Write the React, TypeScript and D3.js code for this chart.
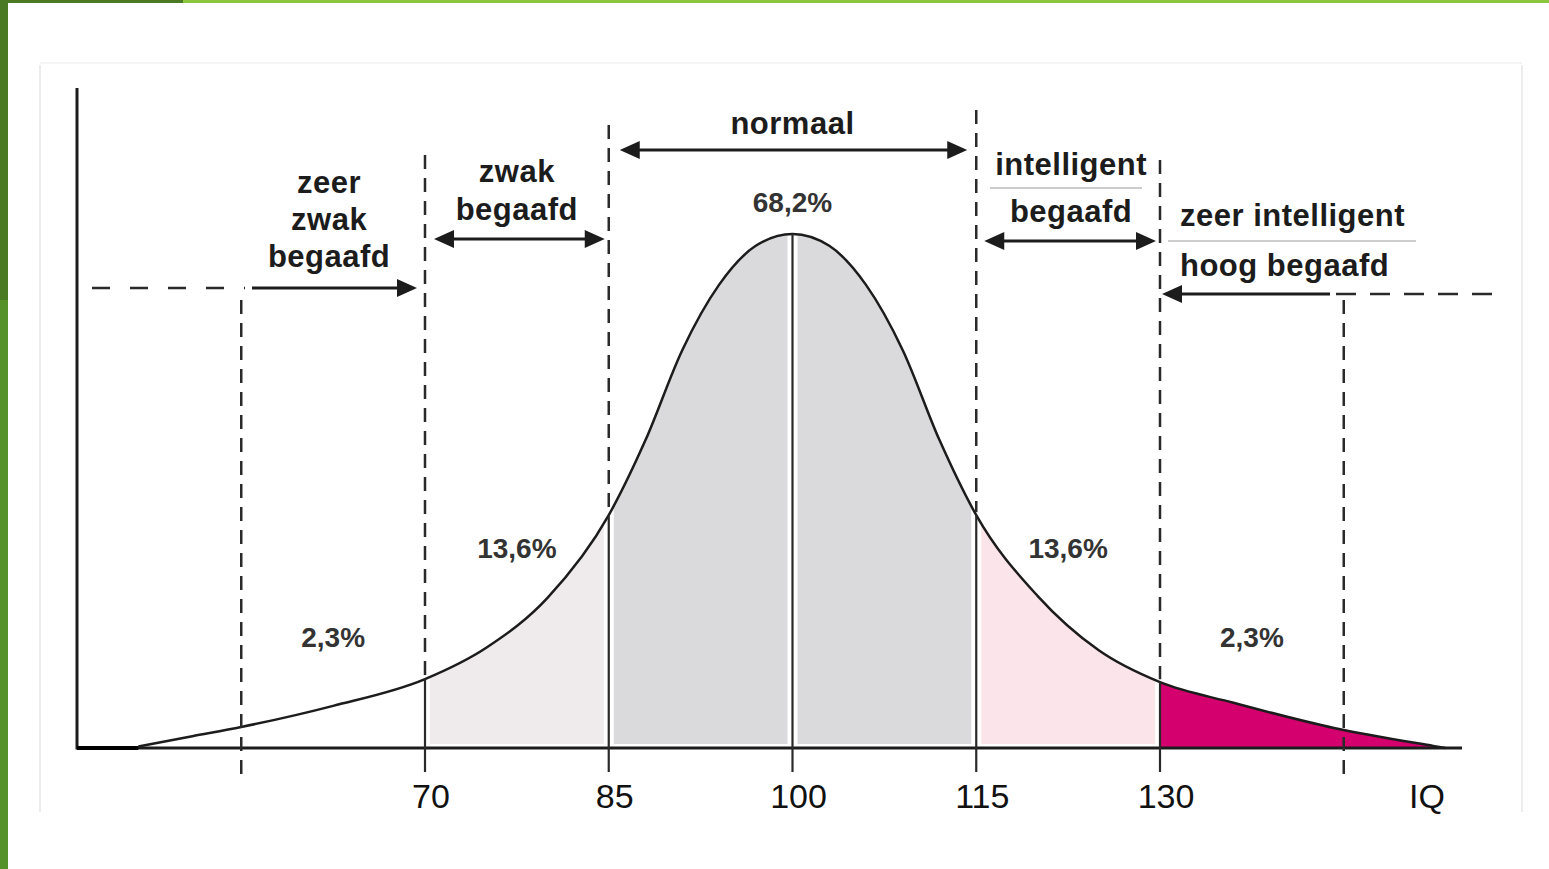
import React from 'react';
import * as d3 from 'd3';

// Curve: IQ value and relative height (peak = 100)
const curveIQ = [46.6, 51, 55, 62.5, 70, 75, 80, 85, 88, 91, 94, 97, 100, 103, 106, 109, 112, 115, 120, 125, 130, 136, 144.2, 152.3, 153.3];
const curveHeight = [0.3, 2.3, 4.1, 8.2, 13.4, 19.5, 29.2, 45.3, 59.9, 77.4, 90.1, 97.7, 100, 97.7, 90.1, 77.4, 59.9, 45.3, 29.6, 19.0, 12.8, 8.8, 3.9, 0.4, 0];

const tickValues = [70, 85, 100, 115, 130];
const tickLabels = ['70', '85', '100', '115', '130'];
const outerMarks = [55, 145];
const percentLabels = ['2,3%', '13,6%', '68,2%', '13,6%', '2,3%'];
const percentAt = [62.5, 77.5, 100, 122.5, 137.5];
const axisName = 'IQ';

const W = 1549;
const H = 869;
const x = d3.scaleLinear().domain([70, 130]).range([425, 1160]);
const y = d3.scaleLinear().domain([0, 100]).range([748, 234]);

const pts: [number, number][] = curveIQ.map((v, i) => [v, curveHeight[i]]);
const curveAt = (iq: number) => curveHeight[curveIQ.indexOf(iq)];

const lineGen = d3.line<[number, number]>().x(d => x(d[0])).y(d => y(d[1])).curve(d3.curveMonotoneX);
const areaGen = d3.area<[number, number]>().x(d => x(d[0])).y0(y(0)).y1(d => y(d[1])).curve(d3.curveMonotoneX);

const INK = '#1c1c1c';
const LBL = "'Liberation Sans', Arial, sans-serif";

function head(tx: number, ty: number, dir: number, key: string) {
  const L = 20, hw = 9;
  return <polygon key={key} points={`${tx},${ty} ${tx - dir * L},${ty - hw} ${tx - dir * L},${ty + hw}`} fill={INK} />;
}

function dblArrow(x1: number, x2: number, yy: number, key: string) {
  return (
    <g key={key}>
      <line x1={x1 + 10} x2={x2 - 10} y1={yy} y2={yy} stroke={INK} strokeWidth={3} />
      {head(x1, yy, -1, key + 'l')}
      {head(x2, yy, 1, key + 'r')}
    </g>
  );
}

export default function App() {
  const base = y(0);
  const bandFill = (a: number, b: number, color: string, inset: number, bottomGap: number, key: string) => (
    <rect key={key} x={x(a) + inset} width={x(b) - x(a) - 2 * inset} y={150} height={base - 150 - bottomGap} fill={color} clipPath="url(#under)" />
  );
  const dashedTops: Record<number, number> = { 70: 155, 85: 125, 115: 110, 130: 160 };

  const textStyle = { fontFamily: LBL, fontWeight: 700, fontSize: 31, letterSpacing: 0.5, fill: INK } as const;
  const pctStyle = { fontFamily: LBL, fontWeight: 700, fontSize: 28, fill: '#333' } as const;

  return (
    <svg width={W} height={H} style={{ position: 'absolute', left: 0, top: 0, background: '#fff' }}>
      <defs>
        <clipPath id="under">
          <path d={areaGen(pts) || ''} />
        </clipPath>
      </defs>
      <rect x={0} y={0} width={W} height={H} fill="#fff" />
      {/* slide decoration */}
      <rect x={0} y={0} width={W} height={3} fill="#8cc63f" />
      <rect x={0} y={0} width={183} height={3} fill="#4a7a23" />
      <rect x={0} y={0} width={8} height={H} fill="#55922a" />
      <rect x={0} y={0} width={8} height={300} fill="#4a7a23" />
      {/* faint frame of the pasted picture */}
      <line x1={40} x2={40} y1={65} y2={812} stroke="#ececec" strokeWidth={2} />
      <line x1={1522} x2={1522} y1={65} y2={812} stroke="#ececec" strokeWidth={2} />
      <line x1={40} x2={1522} y1={63} y2={63} stroke="#f4f4f4" strokeWidth={2} />

      {/* filled bands */}
      {bandFill(70, 85, '#efebec', 5, 4, 'b1')}
      {bandFill(85, 100, '#dad9db', 5, 4, 'b2')}
      {bandFill(100, 115, '#dad9db', 5, 4, 'b3')}
      {bandFill(115, 130, '#fbe4ea', 5, 4, 'b4')}
      {bandFill(130, 160, '#d3006e', 0, 0, 'b5')}

      {/* curve */}
      <path d={lineGen(pts) || ''} fill="none" stroke={INK} strokeWidth={2.5} />

      {/* axes */}
      <line x1={77} x2={77} y1={88} y2={base + 1.5} stroke={INK} strokeWidth={3} />
      <line x1={77} x2={1462} y1={base} y2={base} stroke={INK} strokeWidth={3} />
      <line x1={77} x2={x(curveIQ[0])} y1={base} y2={base} stroke="#000" strokeWidth={4} />

      {/* solid verticals under the curve + ticks */}
      {tickValues.map(v => (
        <line key={'s' + v} x1={x(v)} x2={x(v)} y1={y(curveAt(v))} y2={base + 24} stroke="#2a2a2a" strokeWidth={2.2} />
      ))}
      {/* dashed verticals above the curve */}
      {tickValues.filter(v => dashedTops[v] !== undefined).map(v => (
        <line key={'d' + v} x1={x(v)} x2={x(v)} y1={dashedTops[v]} y2={y(curveAt(v)) - 3} stroke="#2a2a2a" strokeWidth={2.5} strokeDasharray="14 9" />
      ))}
      {outerMarks.map(v => (
        <line key={'o' + v} x1={x(v)} x2={x(v)} y1={300} y2={776} stroke="#2a2a2a" strokeWidth={2.5} strokeDasharray="14 9" />
      ))}

      {/* tick labels */}
      {tickValues.map((v, i) => (
        <text key={'t' + v} x={x(v) + 6} y={808} textAnchor="middle" style={{ fontFamily: LBL, fontSize: 34, fill: '#111' }}>{tickLabels[i]}</text>
      ))}
      <text x={1427} y={808} textAnchor="middle" style={{ fontFamily: LBL, fontSize: 34, fill: '#111' }}>{axisName}</text>

      {/* percentages */}
      {percentLabels.map((p, i) => (
        <text key={'p' + i} x={x(percentAt[i])} y={i === 2 ? 212 : (i === 1 || i === 3 ? 558 : 647)} textAnchor="middle" style={pctStyle}>{p}</text>
      ))}

      {/* left outer arrow */}
      <line x1={92} x2={245} y1={288} y2={288} stroke="#2a2a2a" strokeWidth={2.5} strokeDasharray="18 20" />
      <line x1={252} x2={405} y1={288} y2={288} stroke={INK} strokeWidth={3} />
      {head(x(70) - 8, 288, 1, 'la')}
      {/* right outer arrow */}
      <line x1={x(130) + 12} x2={1330} y1={294} y2={294} stroke={INK} strokeWidth={3} />
      <line x1={1336} x2={1497} y1={294} y2={294} stroke="#2a2a2a" strokeWidth={2.5} strokeDasharray="20 14" />
      {head(x(130) + 2, 294, -1, 'ra')}

      {dblArrow(x(70) + 9, x(85) - 4, 239, 'a1')}
      {dblArrow(x(85) + 11, x(115) - 9, 150, 'a2')}
      {dblArrow(x(115) + 8, x(130) - 4, 241, 'a3')}

      {/* category labels */}
      <text x={x(62.5) - 4} y={193} textAnchor="middle" style={textStyle}>zeer</text>
      <text x={x(62.5) - 4} y={230} textAnchor="middle" style={textStyle}>zwak</text>
      <text x={x(62.5) - 4} y={267} textAnchor="middle" style={textStyle}>begaafd</text>

      <text x={x(77.5)} y={182} textAnchor="middle" style={textStyle}>zwak</text>
      <text x={x(77.5)} y={220} textAnchor="middle" style={textStyle}>begaafd</text>

      <text x={x(100)} y={134} textAnchor="middle" style={textStyle}>normaal</text>

      <text x={x(122.5) + 3} y={175} textAnchor="middle" style={textStyle}>intelligent</text>
      <line x1={990} x2={1142} y1={188} y2={188} stroke="#bdbdbd" strokeWidth={1.5} />
      <text x={x(122.5) + 3} y={222} textAnchor="middle" style={textStyle}>begaafd</text>

      <text x={1180} y={226} style={textStyle}>zeer intelligent</text>
      <line x1={1168} x2={1416} y1={241} y2={241} stroke="#bdbdbd" strokeWidth={1.5} />
      <text x={1180} y={276} style={textStyle}>hoog begaafd</text>
    </svg>
  );
}
